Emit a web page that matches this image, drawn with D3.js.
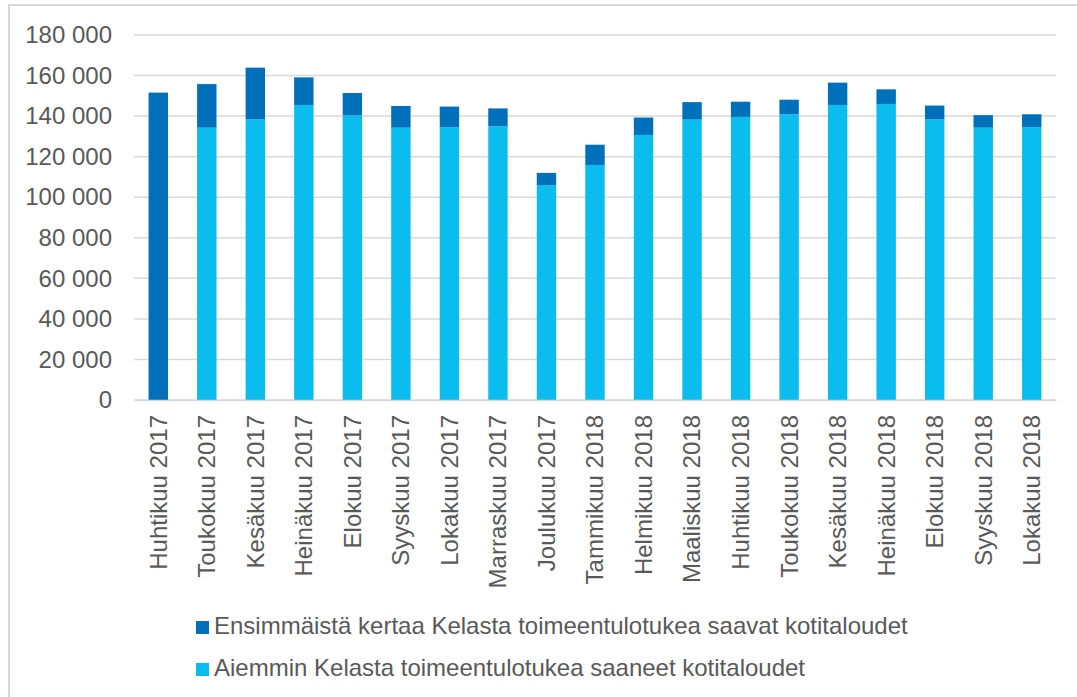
<!DOCTYPE html>
<html>
<head>
<meta charset="utf-8">
<script src="https://d3js.org/d3.v7.min.js"></script>
<style type="text/css">
body {margin:0;background:#fff;}
svg {display:block;}
text {font-family:"Liberation Sans", Arial, sans-serif;fill:#595959;}
</style>
</head>
<body>
<svg id="chart" width="1077" height="697"></svg>

<script type="text/javascript">
	// kuukaudet
	var months = ["Huhtikuu 2017","Toukokuu 2017","Kesäkuu 2017","Heinäkuu 2017","Elokuu 2017",
		"Syyskuu 2017","Lokakuu 2017","Marraskuu 2017","Joulukuu 2017","Tammikuu 2018",
		"Helmikuu 2018","Maaliskuu 2018","Huhtikuu 2018","Toukokuu 2018","Kesäkuu 2018",
		"Heinäkuu 2018","Elokuu 2018","Syyskuu 2018","Lokakuu 2018"];

	// aiemmin saaneet (alempi osa)
	var earlier = [0,134300,138400,145500,140400,134300,134600,135000,106000,115900,
		130700,138300,139600,140900,145500,146000,138400,134300,134600];

	// ensimmäistä kertaa saavat (ylempi osa)
	var firstTime = [151600,21500,25500,13600,11000,10700,10100,8800,6000,10000,
		8600,8600,7500,7200,11000,7200,6800,6200,6300];

	var yTicks = [0,20000,40000,60000,80000,100000,120000,140000,160000,180000];

	var seriesNames = ["Ensimmäistä kertaa Kelasta toimeentulotukea saavat kotitaloudet",
		"Aiemmin Kelasta toimeentulotukea saaneet kotitaloudet"];
	var colors = ["#0070bb", "#0bbcee"];

	var svg = d3.select("#chart");
	var plotLeft = 134, plotRight = 1056, plotTop = 35, plotBottom = 400;

	// ulkoreunus
	svg.append("rect").attr("x",9).attr("y",5).attr("width",1100).attr("height",720)
		.attr("fill","none").attr("stroke","#d9d9d9").attr("stroke-width",2);

	var x = d3.scaleBand().domain(months).range([plotLeft,plotRight]).paddingInner(0.6).paddingOuter(0.3);
	var y = d3.scaleLinear().domain([0,180000]).range([plotBottom,plotTop]);

	var loc = d3.formatLocale({decimal:",", thousands:"\u00a0", grouping:[3], currency:["","€"]});
	var fmt = loc.format(",");

	// ruudukko
	svg.append("g").selectAll("line").data(yTicks).enter().append("line")
		.attr("x1",plotLeft).attr("x2",plotRight)
		.attr("y1",function(d){return y(d);}).attr("y2",function(d){return y(d);})
		.attr("stroke","#d9d9d9").attr("stroke-width",1.5);

	var yAxis = svg.append("g").attr("transform","translate(" + plotLeft + ",0)")
		.call(d3.axisLeft(y).tickValues(yTicks).tickFormat(fmt).tickSize(0).tickPadding(22));
	yAxis.select(".domain").remove();
	yAxis.selectAll("text").style("font-size","24px").attr("fill","#595959");

	// pylväät
	var rows = months.map(function(m,i){return {month:m, earlier:earlier[i], first:firstTime[i]};});
	var stack = d3.stack().keys(["earlier","first"])(rows);

	svg.append("g").selectAll("g").data(stack).enter().append("g")
		.attr("fill",function(d){return d.key == "first" ? colors[0] : colors[1];})
		.selectAll("rect").data(function(d){return d;}).enter().append("rect")
		.attr("x",function(d){return x(d.data.month);})
		.attr("width",x.bandwidth())
		.attr("y",function(d){return y(d[1]);})
		.attr("height",function(d){return y(d[0]) - y(d[1]);});

	var xAxis = svg.append("g").attr("transform","translate(0," + plotBottom + ")")
		.call(d3.axisBottom(x).tickSize(0).tickSizeOuter(0));
	xAxis.select(".domain").attr("stroke","#d9d9d9").attr("stroke-width",1.5);
	xAxis.selectAll("text")
		.style("font-size","24px").attr("fill","#595959")
		.attr("text-anchor","end")
		.attr("transform","rotate(-90)")
		.attr("x",-15).attr("y",0).attr("dy","0.35em");

	// selite
	var legend = svg.append("g").selectAll("g").data(seriesNames).enter().append("g")
		.attr("transform",function(d,i){return "translate(196," + (621 + i*42) + ")";});
	legend.append("rect").attr("width",13).attr("height",13)
		.attr("fill",function(d,i){return colors[i];});
	legend.append("text").attr("x",18).attr("y",13).style("font-size","24px")
		.text(function(d){return d;});
</script>
</body>
</html>
